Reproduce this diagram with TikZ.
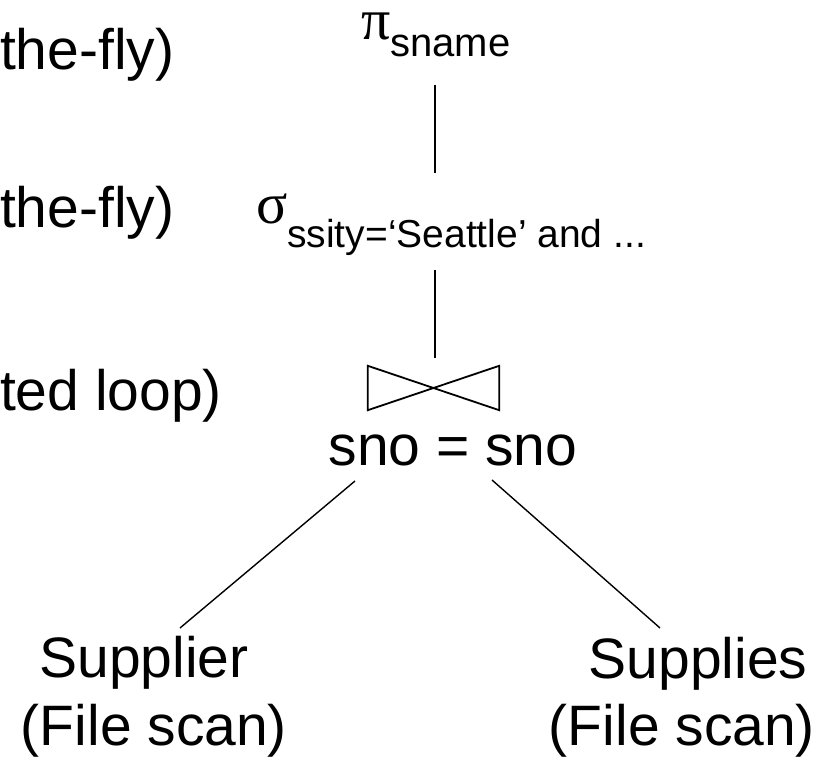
\documentclass[tikz,border=0pt]{standalone}
\usepackage{fontspec}
\setmainfont{Liberation Sans}
\newfontfamily\grk{Liberation Serif}
\begin{document}
\begin{tikzpicture}[x=1pt,y=-1pt,
  txt/.style={inner sep=0pt,outer sep=0pt,font=\fontsize{57}{68}\selectfont},
  conn/.style={line width=1.4pt,black}]
\useasboundingbox (0,0) rectangle (833,757);
% left cut-off labels
\node[txt,anchor=base west] (l1) at (0,70) {the-fly)};
\node[txt,anchor=base west] (l2) at (0,227) {the-fly)};
\node[txt,anchor=base west] (l3) at (0,410) {ted loop)};
% projection
\node[txt,anchor=base west] (pi) at (361,40) {{\grk\fontsize{58}{58}\selectfont π}\raisebox{-17pt}{\fontsize{40}{40}\selectfont sname}};
% selection
\node[txt,anchor=base west] (sigma) at (256,223) {{\grk\fontsize{58}{58}\selectfont σ}\raisebox{-24pt}{\fontsize{39}{39}\selectfont ssity=‘Seattle’ and ...}};
% join
\node[inner sep=0pt,minimum width=131pt,minimum height=44pt] (join) at (433.5,388) {};
\draw[line width=1.8pt,line join=miter] (join.north west) -- (join.south east) -- (join.north east) -- (join.south west) -- cycle;
\node[txt,anchor=base] (cond) at (453,465) {sno = sno};
% leaves
\node[txt,anchor=base] (supr) at (144,677) {Supplier};
\node[txt,anchor=base] (suprscan) at (154,745) {(File scan)};
\node[txt,anchor=base] (sups) at (698,678) {Supplies};
\node[txt,anchor=base] (supsscan) at (682,745) {(File scan)};
% connector end points
\coordinate (pi-b) at (435,85);
\coordinate (sig-t) at (435,173);
\coordinate (sig-b) at (435,270);
\coordinate (join-t) at (435,358);
\coordinate (cond-l) at (355,481);
\coordinate (cond-r) at (492,480);
\coordinate (supr-t) at (180,628);
\coordinate (sups-t) at (660,628);
\draw[conn] (pi-b) -- (sig-t);
\draw[conn] (sig-b) -- (join-t);
\draw[conn] (cond-l) -- (supr-t);
\draw[conn] (cond-r) -- (sups-t);
\end{tikzpicture}
\end{document}
